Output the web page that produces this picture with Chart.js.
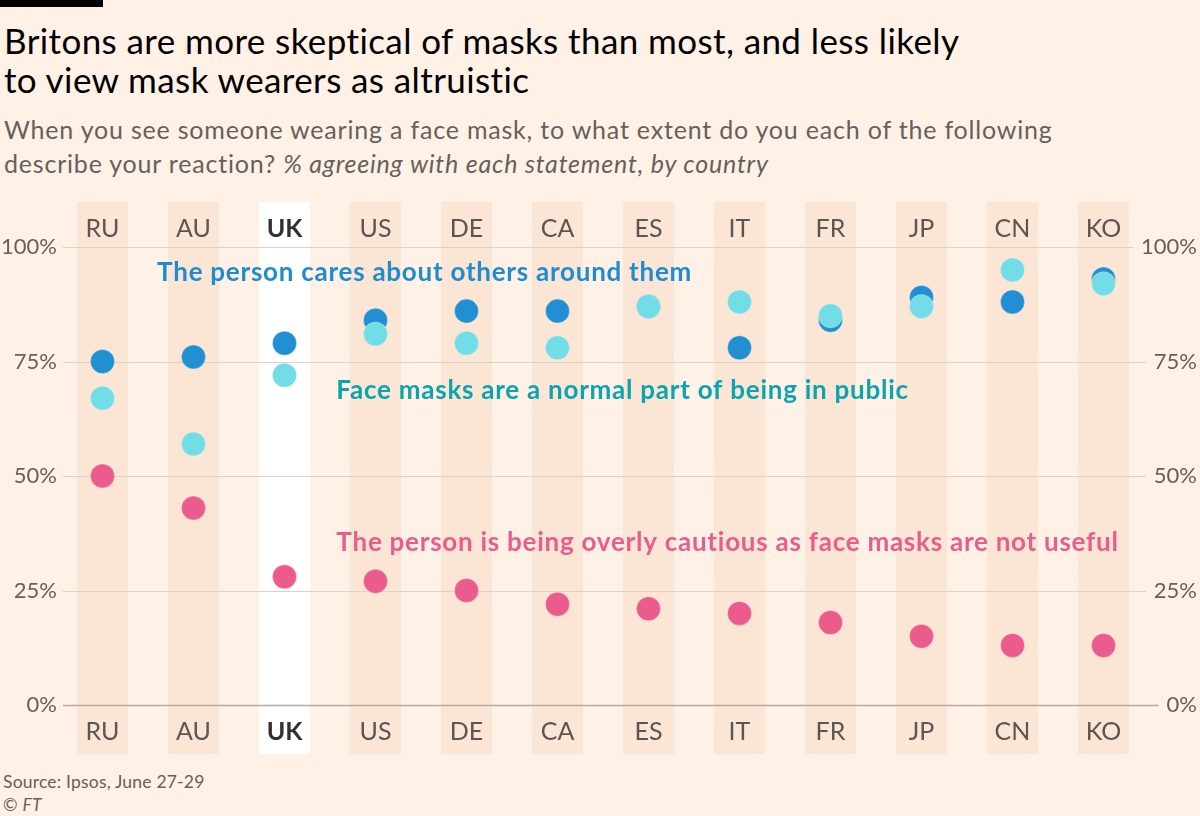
<!DOCTYPE html>
<html>
<head>
<meta charset="utf-8">
<script src="https://cdn.jsdelivr.net/npm/chart.js@4"></script>
<style>
    body { margin: 0; background: #FFF1E5; font-family: Lato, sans-serif; }
    #page { position: relative; width: 1200px; height: 816px; overflow: hidden; }
    #topbar { position: absolute; left: 0; top: 0; width: 103px; height: 7px; background: #000; }
    #title { position: absolute; left: 4px; top: 21px; font-size: 35px; line-height: 39px; letter-spacing: 0.4px; color: #000; white-space: nowrap; }
    #subtitle { position: absolute; left: 4px; top: 112px; font-size: 25px; line-height: 34px; letter-spacing: 0.8px; color: #66605C; white-space: nowrap; }
    #chart-box { position: absolute; left: 0; top: 200px; width: 1200px; height: 560px; }
    #source { position: absolute; left: 3px; top: 770px; font-size: 17.5px; line-height: 23px; letter-spacing: 0.2px; color: #66605C; }
</style>
</head>
<body>
<div id="page">
    <div id="topbar"></div>
    <div id="title">Britons are more skeptical of masks than most, and less likely<br>to view mask wearers as altruistic</div>
    <div id="subtitle">When you see someone wearing a face mask, to what extent do you each of the following<br>describe your reaction? <i>% agreeing with each statement, by country</i></div>
    <div id="chart-box"><canvas id="maskChart"></canvas></div>
    <div id="source">Source: Ipsos, June 27-29<br>© <i>FT</i></div>
</div>
<script>
const countries = ['RU', 'AU', 'UK', 'US', 'DE', 'CA', 'ES', 'IT', 'FR', 'JP', 'CN', 'KO'];
const caresValues = [75, 76, 79, 84, 86, 86, 87, 78, 84, 89, 88, 93];
const normalValues = [67, 57, 72, 81, 79, 78, 87, 88, 85, 87, 95, 92];
const cautiousValues = [50, 43, 28, 27, 25, 22, 21, 20, 18, 15, 13, 13];
const yTicks = [0, 25, 50, 75, 100];
const highlighted = 'UK';

// where each series name sits: index along the countries, value on the % axis
const seriesLabels = [
    { text: 'The person cares about others around them', color: '#1F8CD0', index: 0.6, value: 92.6 },
    { text: 'Face masks are a normal part of being in public', color: '#0BA5AF', index: 2.57, value: 66.8 },
    { text: 'The person is being overly cautious as face masks are not useful', color: '#EB5C8D', index: 2.57, value: 33.6 }
];

const FONT = 'Lato, sans-serif';
const tickFont = { family: FONT, size: 22, lineHeight: 1.2 };

function countryFont(ctx) {
    const bold = countries[ctx.index] === highlighted;
    return { family: FONT, size: 25, lineHeight: 1.2, weight: bold ? 'bold' : 'normal' };
}

function countryColor(ctx) {
    return countries[ctx.index] === highlighted ? '#33302E' : '#5C5652';
}

// column bands and gridlines go under everything
const backdropPlugin = {
    id: 'backdrop',
    beforeDraw(chart) {
        const { ctx, scales } = chart;
        const x = scales.x;
        ctx.save();
        countries.forEach((c, i) => {
            const cx = x.getPixelForValue(i);
            ctx.fillStyle = c === highlighted ? '#FFFFFF' : '#FBE5D5';
            ctx.fillRect(cx - 25.5, 2, 51, 552);
        });

        ctx.font = '22px ' + FONT;
        yTicks.forEach(v => {
            const y = Math.round(scales.y.getPixelForValue(v)) + 0.5;
            const labelW = ctx.measureText(v + '%').width;
            const right = chart.width - 3 - labelW - 8;
            ctx.strokeStyle = v === 0 ? '#B5ABA3' : '#DDD0C5';
            ctx.lineWidth = v === 0 ? 1.5 : 1.2;
            ctx.beginPath();
            ctx.moveTo(63, y);
            ctx.lineTo(right, y);
            ctx.stroke();
        });
        ctx.restore();
    },
    afterDatasetsDraw(chart) {
        const { ctx, scales } = chart;
        const x = scales.x;
        const step = x.getPixelForValue(1) - x.getPixelForValue(0);
        ctx.save();
        ctx.font = 'bold 26px ' + FONT;
        ctx.letterSpacing = '0.75px';
        ctx.textAlign = 'left';
        ctx.textBaseline = 'alphabetic';
        seriesLabels.forEach(l => {
            ctx.fillStyle = l.color;
            ctx.fillText(l.text, x.getPixelForValue(0) + l.index * step, scales.y.getPixelForValue(l.value));
        });
        ctx.restore();
    }
};

function pointSet(label, data, color, order) {
    return {
        label: label,
        data: data,
        showLine: false,
        order: order,
        pointRadius: 12,
        pointHoverRadius: 12,
        pointBackgroundColor: color,
        pointBorderColor: 'rgba(255,241,229,0.35)',
        pointBorderWidth: 1,
        clip: false
    };
}

new Chart(document.getElementById('maskChart'), {
    type: 'line',
    data: {
        labels: countries,
        datasets: [
            pointSet('The person cares about others around them', caresValues, '#2190D2', 2),
            pointSet('Face masks are a normal part of being in public', normalValues, '#72DDE6', 1),
            pointSet('The person is being overly cautious as face masks are not useful', cautiousValues, '#EB5C8D', 0)
        ]
    },
    options: {
        responsive: true,
        maintainAspectRatio: false,
        animation: false,
        layout: { padding: { left: 0, right: 3, top: 0, bottom: 0 } },
        plugins: {
            legend: { display: false },
            tooltip: { enabled: false },
            title: { display: false }
        },
        scales: {
            x: {
                type: 'category',
                position: 'bottom',
                offset: true,
                grid: { display: false, drawTicks: false },
                border: { display: false },
                ticks: { font: countryFont, color: countryColor, padding: 11.5, maxRotation: 0, autoSkip: false },
                afterFit(scale) { scale.height = 55; }
            },
            xTop: {
                type: 'category',
                position: 'top',
                offset: true,
                grid: { display: false, drawTicks: false },
                border: { display: false },
                ticks: { font: countryFont, color: countryColor, padding: 3, maxRotation: 0, autoSkip: false },
                afterFit(scale) { scale.height = 47; }
            },
            y: {
                position: 'left',
                min: 0,
                max: 100,
                grid: { display: false, drawTicks: false },
                border: { display: false },
                afterBuildTicks(scale) { scale.ticks = yTicks.map(v => ({ value: v })); },
                ticks: { font: tickFont, color: '#66605C', padding: 0, callback: v => v + '%' },
                afterFit(scale) {
                    scale.width = 57;
                    scale.paddingTop = 0;
                    scale.paddingBottom = 0;
                }
            },
            y2: {
                position: 'right',
                min: 0,
                max: 100,
                grid: { display: false, drawTicks: false },
                border: { display: false },
                afterBuildTicks(scale) { scale.ticks = yTicks.map(v => ({ value: v })); },
                // mirrored so the wide "100%" label is not clipped to the axis box
                ticks: { font: tickFont, color: '#66605C', mirror: true, padding: 48, callback: v => v + '%' },
                afterFit(scale) {
                    scale.width = 48;
                    scale.paddingTop = 0;
                    scale.paddingBottom = 0;
                }
            }
        }
    },
    plugins: [backdropPlugin]
});
</script>
</body>
</html>
